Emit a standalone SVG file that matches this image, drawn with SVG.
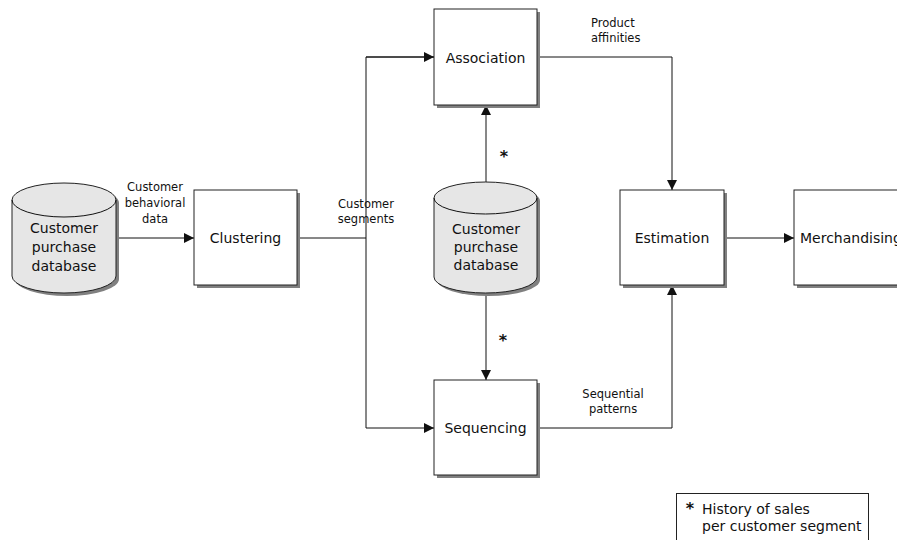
<svg xmlns="http://www.w3.org/2000/svg" width="897" height="540" viewBox="0 0 897 540">
<defs>
<style>
.box{fill:#fff;stroke:#222;stroke-width:1}
.shadow{fill:#808080;stroke:none}
.db{fill:#e6e6e6;stroke:#222;stroke-width:1}
.t{font-family:"DejaVu Sans",Verdana,sans-serif;font-size:14px;fill:#111;text-anchor:middle}
.lbl{font-family:"DejaVu Sans",Verdana,sans-serif;font-size:11.5px;fill:#111;text-anchor:middle}
.conn{fill:none;stroke:#111;stroke-width:1}
.star{font-family:"DejaVu Sans",Verdana,sans-serif;font-size:16px;font-weight:bold;fill:#111;text-anchor:middle}
</style>
<marker id="arr" viewBox="0 0 10 10" refX="10" refY="5" markerWidth="10" markerHeight="10" markerUnits="userSpaceOnUse" orient="auto">
<path d="M0,0 L10,5 L0,10 Z" fill="#111"/>
</marker>
</defs>
<rect width="897" height="540" fill="#fff"/>

<g id="connectors">
<line class="conn" x1="116" y1="238" x2="194" y2="238" marker-end="url(#arr)"/>
<line class="conn" x1="297" y1="238" x2="366" y2="238"/>
<polyline class="conn" points="434,57 366,57 366,428 434,428" marker-end="url(#arr)"/>
<line class="conn" x1="366" y1="57" x2="434" y2="57" marker-end="url(#arr)"/>
<line class="conn" x1="486" y1="182" x2="486" y2="105" marker-end="url(#arr)"/>
<line class="conn" x1="486" y1="293" x2="486" y2="380" marker-end="url(#arr)"/>
<polyline class="conn" points="537,57 672,57 672,190" marker-end="url(#arr)"/>
<polyline class="conn" points="537,428 672,428 672,285" marker-end="url(#arr)"/>
<line class="conn" x1="724" y1="238" x2="794" y2="238" marker-end="url(#arr)"/>
<text class="lbl" x="155" y="191">Customer</text>
<text class="lbl" x="155" y="207">behavioral</text>
<text class="lbl" x="155" y="223">data</text>
<text class="lbl" x="366" y="208">Customer</text>
<text class="lbl" x="366" y="223">segments</text>
<text class="lbl" x="591" y="27" style="text-anchor:start">Product</text>
<text class="lbl" x="591" y="42" style="text-anchor:start">affinities</text>
<text class="lbl" x="613" y="398">Sequential</text>
<text class="lbl" x="613" y="413">patterns</text>
<text class="star" x="504" y="162">*</text>
<text class="star" x="503" y="346">*</text>
</g>

<g id="db1">
<path class="shadow" d="M15,203 A52,17 0 0 1 119,203 L119,279 A52,17 0 0 1 15,279 Z"/>
<path class="db" d="M12,200 A52,17 0 0 1 116,200 L116,276 A52,17 0 0 1 12,276 Z"/>
<path class="conn" d="M12,200 A52,17 0 0 0 116,200"/>
<text class="t" x="64" y="233">Customer</text>
<text class="t" x="64" y="252">purchase</text>
<text class="t" x="64" y="271">database</text>
</g>

<g id="clustering">
<rect class="shadow" x="197" y="193" width="103" height="95"/>
<rect class="box" x="194" y="190" width="103" height="95"/>
<text class="t" x="245.5" y="243">Clustering</text>
</g>

<g id="association">
<rect class="shadow" x="437" y="12" width="103" height="96"/>
<rect class="box" x="434" y="9" width="103" height="96"/>
<text class="t" x="485.5" y="63">Association</text>
</g>

<g id="db2">
<path class="shadow" d="M437,201 A51.5,16 0 0 1 540,201 L540,280 A51.5,16 0 0 1 437,280 Z"/>
<path class="db" d="M434,198 A51.5,16 0 0 1 537,198 L537,277 A51.5,16 0 0 1 434,277 Z"/>
<path class="conn" d="M434,198 A51.5,16 0 0 0 537,198"/>
<text class="t" x="486" y="234">Customer</text>
<text class="t" x="486" y="252">purchase</text>
<text class="t" x="486" y="270">database</text>
</g>

<g id="sequencing">
<rect class="shadow" x="437" y="383" width="103" height="95"/>
<rect class="box" x="434" y="380" width="103" height="95"/>
<text class="t" x="485.5" y="433">Sequencing</text>
</g>

<g id="estimation">
<rect class="shadow" x="623" y="193" width="104" height="95"/>
<rect class="box" x="620" y="190" width="104" height="95"/>
<text class="t" x="672" y="243">Estimation</text>
</g>

<g id="merchandising">
<rect class="shadow" x="797" y="193" width="110" height="95"/>
<rect class="box" x="794" y="190" width="110" height="95"/>
<text class="t" x="800" y="243" style="text-anchor:start">Merchandising</text>
</g>

<g id="legend">
<rect class="box" x="676.5" y="493.5" width="192" height="60"/>
<text class="star" x="690" y="514">*</text>
<text class="t" x="702" y="514" style="text-anchor:start">History of sales</text>
<text class="t" x="702" y="531" style="text-anchor:start">per customer segment</text>
</g>
</svg>
